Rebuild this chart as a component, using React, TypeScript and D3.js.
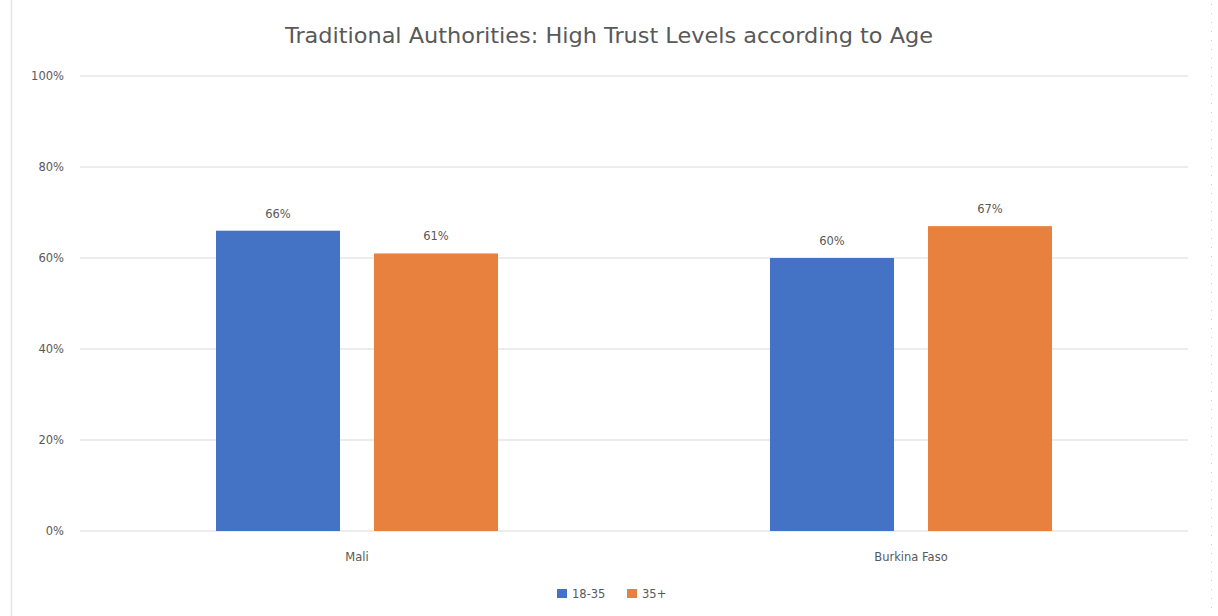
import React from "react";
import * as d3 from "d3";

const categories = ["Mali", "Burkina Faso"];
const seriesNames = ["18-35", "35+"];
const values1835 = [0.66, 0.60];
const values35plus = [0.61, 0.67];
const yTicks = [0, 0.2, 0.4, 0.6, 0.8, 1.0];
const colors = ["#4472C4", "#E8803E"];
const title = "Traditional Authorities: High Trust Levels according to Age";

const W = 1218;
const H = 616;

export default function App() {
  const left = 80, right = 1188, top = 76, bottom = 531;
  const x0 = d3.scaleBand<string>().domain(categories).range([left, right]).paddingInner(0).paddingOuter(0);
  const groupW = 282;
  const x1 = d3.scaleBand<string>().domain(seriesNames).range([0, groupW]).paddingInner(34 / 158).paddingOuter(0);
  const y = d3.scaleLinear().domain([0, 1]).range([bottom, top]);
  const fmt = d3.format(".0%");
  const series = [values1835, values35plus];
  const font = "'DejaVu Sans', Verdana, sans-serif";
  const textColor = "#595959";

  return (
    <svg width={W} height={H} style={{ position: "absolute", left: 0, top: 0, background: "#fff" }} fontFamily={font}>
      <rect x={0} y={0} width={W} height={H} fill="#fff" />
      <line x1={11.5} x2={11.5} y1={0} y2={H} stroke="#e4e4e4" strokeWidth={1.5} />
      <line x1={1211.5} x2={1211.5} y1={4} y2={H} stroke="#d0d0d0" strokeWidth={1} strokeDasharray="1 8" />
      <text x={609} y={43} textAnchor="middle" fontSize={20.5} fill={textColor} textLength={648} lengthAdjust="spacingAndGlyphs">{title}</text>
      {yTicks.map((t) => (
        <g key={t}>
          <line x1={left} x2={right} y1={y(t)} y2={y(t)} stroke="#d9d9d9" strokeWidth={1} />
          <text x={64} y={y(t) + 4} textAnchor="end" fontSize={11.5} fill={textColor}>{fmt(t)}</text>
        </g>
      ))}
      {categories.map((c, ci) => {
        const gx = (x0(c) as number) + (x0.bandwidth() - groupW) / 2;
        return (
          <g key={c}>
            {seriesNames.map((s, si) => {
              const v = series[si][ci];
              const bx = gx + (x1(s) as number);
              return (
                <g key={s}>
                  <rect x={bx} y={y(v)} width={x1.bandwidth()} height={bottom - y(v)} fill={colors[si]} />
                  <text x={bx + x1.bandwidth() / 2} y={y(v) - 13} textAnchor="middle" fontSize={11.5} fill={textColor}>{fmt(v)}</text>
                </g>
              );
            })}
            <text x={(x0(c) as number) + x0.bandwidth() / 2} y={561} textAnchor="middle" fontSize={11.5} fill={textColor}>{c}</text>
          </g>
        );
      })}
      {seriesNames.map((s, si) => {
        const lx = [557, 627][si];
        return (
          <g key={s}>
            <rect x={lx} y={589} width={10} height={9} fill={colors[si]} />
            <text x={lx + 15} y={598} fontSize={11.5} fill={textColor}>{s}</text>
          </g>
        );
      })}
    </svg>
  );
}
